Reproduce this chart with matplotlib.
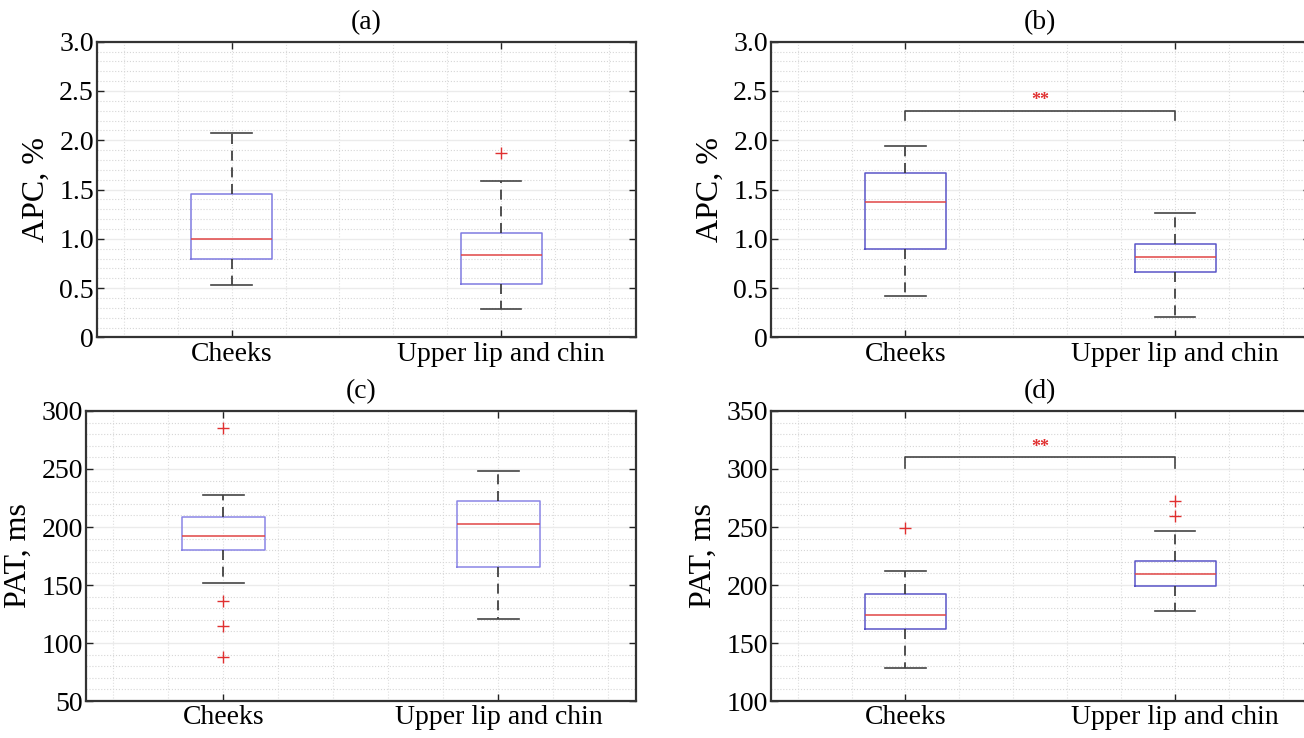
import numpy as np
import matplotlib.pyplot as plt
from matplotlib.ticker import MultipleLocator, FuncFormatter

plt.rcParams['font.family'] = ['Liberation Serif', 'DejaVu Serif']

groups = ['Cheeks', 'Upper lip and chin']

# lower whisker, Q1, median, Q3, upper whisker
apc_a = [[0.53, 0.80, 1.00, 1.46, 2.07],
         [0.29, 0.54, 0.84, 1.06, 1.59]]
apc_a_out = [[], [1.87]]

apc_b = [[0.42, 0.90, 1.37, 1.67, 1.94],
         [0.21, 0.66, 0.82, 0.95, 1.26]]
apc_b_out = [[], []]

pat_c = [[151.7, 180.6, 192.0, 208.4, 227.7],
         [120.5, 165.9, 203.0, 222.3, 248.6]]
pat_c_out = [[285.5, 136.0, 115.0, 88.0], []]

pat_d = [[128.3, 161.7, 174.0, 192.3, 211.7],
         [177.4, 199.4, 209.4, 221.1, 246.9]]
pat_d_out = [[249.0], [272.3, 259.4]]

# significance bracket levels (b) and (d)
sig_b = 2.30
sig_d = 310


def make_stats(summ, outs):
    st = []
    for s, o in zip(summ, outs):
        st.append(dict(whislo=s[0], q1=s[1], med=s[2], q3=s[3], whishi=s[4],
                       fliers=o))
    return st


def draw_panel(ax, summ, outs, ylim, ystep, yminor, ylabel, title, boxcol):
    ax.bxp(make_stats(summ, outs), positions=[1, 2], widths=0.3,
           showfliers=True, capwidths=0.15,
           boxprops=dict(color=boxcol, lw=1.1),
           medianprops=dict(color='#e04545', lw=1.1),
           whiskerprops=dict(color='#333333', lw=1.2, ls=(0, (6, 4))),
           capprops=dict(color='#444444', lw=1.2),
           flierprops=dict(marker='+', markeredgecolor='#e03030',
                           markersize=8, markeredgewidth=1.0, ls='none'))
    ax.set_xlim(0.5, 2.5)
    ax.set_ylim(*ylim)
    ax.yaxis.set_major_locator(MultipleLocator(ystep))
    ax.yaxis.set_minor_locator(MultipleLocator(yminor))
    ax.xaxis.set_minor_locator(MultipleLocator(0.2))
    ax.set_xticks([1, 2])
    ax.set_xticklabels(groups)
    if ystep < 1:
        ax.yaxis.set_major_formatter(FuncFormatter(
            lambda v, p: '0' if abs(v) < 1e-9 else '%.1f' % v))
    ax.grid(which='major', axis='y', color='#ebebeb', lw=1.0, ls='-')
    ax.grid(which='minor', axis='y', color='#d6d6d6', lw=0.8, ls=':')
    ax.grid(which='both', axis='x', color='#dedede', lw=0.8, ls=':')
    ax.set_axisbelow(True)
    ax.tick_params(axis='both', which='major', direction='in', length=5,
                   width=1.0, top=True, right=True, labelsize=20,
                   colors='#222222', labelcolor='black', pad=3)
    ax.tick_params(axis='y', which='major', pad=2)
    ax.tick_params(axis='both', which='minor', length=0)
    for sp in ax.spines.values():
        sp.set_color('#333333')
        sp.set_linewidth(1.6)
    ax.set_ylabel(ylabel, fontsize=23, labelpad=6)
    ax.set_title(title, fontsize=20, pad=9)


def sig_bracket(ax, y, drop):
    ax.plot([1, 1, 2, 2], [y - drop, y, y, y - drop], color='#444444', lw=1.2)
    ax.text(1.5, y + drop * 0.15, '**', color='#e03030', fontsize=13,
            fontweight='bold', ha='center', va='bottom')


fig = plt.figure(figsize=(13.04, 7.38), dpi=100)
ax1 = fig.add_axes([0.0742, 0.5427, 0.4136, 0.4008])
ax2 = fig.add_axes([0.5910, 0.5427, 0.4136, 0.4008])
ax3 = fig.add_axes([0.0657, 0.0501, 0.4220, 0.3930])
ax4 = fig.add_axes([0.5910, 0.0501, 0.4136, 0.3930])

draw_panel(ax1, apc_a, apc_a_out, (0, 3.0), 0.5, 0.1, 'APC, %', '(a)', '#7f7ae0')
draw_panel(ax2, apc_b, apc_b_out, (0, 3.0), 0.5, 0.1, 'APC, %', '(b)', '#5a55c8')
draw_panel(ax3, pat_c, pat_c_out, (50, 300), 50, 10, 'PAT, ms', '(c)', '#8a85e6')
draw_panel(ax4, pat_d, pat_d_out, (100, 350), 50, 10, 'PAT, ms', '(d)', '#5a55c8')

sig_bracket(ax2, sig_b, 0.09)
sig_bracket(ax4, sig_d, 9)

fig.savefig('out.png', dpi=100)
